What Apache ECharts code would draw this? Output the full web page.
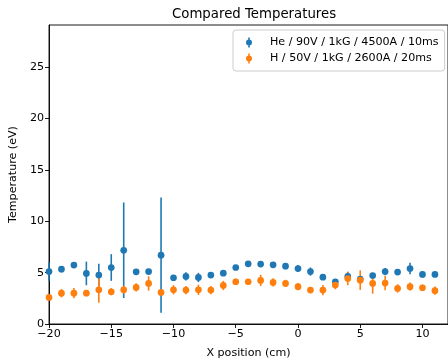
<!DOCTYPE html>
<html><head><meta charset="utf-8">
<script src="https://cdn.jsdelivr.net/npm/echarts@6/dist/echarts.min.js"></script>
<style>html,body{margin:0;padding:0;background:#fff}#c{width:448px;height:364px}</style>
</head><body><div id="c"></div>
<script>
const xPos = [-20,-19,-18,-17,-16,-15,-14,-13,-12,-11,-10,-9,-8,-7,-6,-5,-4,-3,-2,-1,0,1,2,3,4,5,6,7,8,9,10,11];
const heTemp = [5.1,5.34,5.73,4.92,4.76,5.5,7.18,5.08,5.1,6.7,4.5,4.63,4.53,4.76,4.95,5.5,5.86,5.83,5.76,5.63,5.4,5.1,4.56,4.11,4.63,4.37,4.72,5.1,5.05,5.4,4.82,4.82];
const heErr = [0.9,0.3,0.2,1.15,1.1,1.3,4.65,0.2,0.2,5.6,0.2,0.4,0.45,0.2,0.2,0.2,0.2,0.2,0.25,0.2,0.35,0.4,0.15,0.2,0.45,0.25,0.2,0.35,0.2,0.55,0.3,0.2];
const hTemp = [2.59,3.0,3.0,3.0,3.33,3.14,3.33,3.56,3.95,3.07,3.33,3.3,3.33,3.3,3.75,4.11,4.11,4.24,4.05,3.95,3.63,3.3,3.3,3.79,4.43,4.27,3.95,3.98,3.46,3.63,3.53,3.24];
const hErr = [0.2,0.4,0.5,0.2,1.25,0.35,0.4,0.4,0.7,0.3,0.45,0.4,0.5,0.4,0.45,0.3,0.2,0.55,0.4,0.35,0.35,0.2,0.5,0.4,0.65,0.95,1.0,0.7,0.4,0.4,0.3,0.4];
const heName = 'He / 90V / 1kG / 4500A / 10ms';
const hName = 'H / 50V / 1kG / 2600A / 20ms';
const xTicks = {min: -20, max: 12.05, interval: 5};
const yTicks = {min: 0, max: 29.1, interval: 5};

const blue = '#1f77b4', orange = '#ff7f0e';
const font = 'DejaVu Sans';
function errData(ys, es){ return xPos.map((x,i)=>[x, ys[i], es[i]]); }
function ptData(ys){ return xPos.map((x,i)=>[x, ys[i]]); }
function errSeries(name, ys, es, color){
  return {
    type:'custom', name: name, data: errData(ys, es), encode:{x:0,y:1}, silent:true,
    renderItem: function(params, api){
      const x = api.value(0), y = api.value(1), e = api.value(2);
      const p1 = api.coord([x, y - e]), p2 = api.coord([x, y + e]);
      return {type:'line', shape:{x1:p1[0], y1:p1[1], x2:p2[0], y2:p2[1]},
        style:{stroke: color, lineWidth: 1.6}};
    }
  };
}
const icon = 'path://M2.2,0h1.6v10h-1.6z M0,5a3,3 0 1,1 6,0a3,3 0 1,1 -6,0z';
const chart = echarts.init(document.getElementById('c'), null, {renderer:'canvas'});
chart.setOption({
  animation:false,
  title:{text:'Compared Temperatures', left:167, top:3,
    textStyle:{fontFamily:font, fontSize:13.3, fontWeight:'normal', color:'#000'}},
  grid:{left:48, top:25, right:-3, bottom:39, show:true, borderColor:'#000', borderWidth:0.9},
  legend:{
    orient:'vertical', left:233, top:30, itemWidth:6, itemHeight:11, itemGap:5,
    padding:[7, 6, 7, 13], borderColor:'#ccc', borderWidth:1, borderRadius:3,
    backgroundColor:'rgba(255,255,255,0.8)',
    textStyle:{fontFamily:font, fontSize:11.1, color:'#000', padding:[0,0,0,13]},
    data:[{name:heName, icon:icon, itemStyle:{opacity:1}}, {name:hName, icon:icon, itemStyle:{opacity:1}}]
  },
  xAxis:{type:'value', min:xTicks.min, max:xTicks.max, interval:xTicks.interval,
    name:'X position (cm)', nameLocation:'middle', nameGap:24,
    nameTextStyle:{fontFamily:font, fontSize:11.1, color:'#000'},
    axisLine:{show:true, onZero:false, lineStyle:{color:'#000', width:0.9}},
    axisTick:{show:true, length:4, lineStyle:{color:'#000', width:0.9}},
    axisLabel:{fontFamily:font, fontSize:11.1, color:'#000', margin:5, showMaxLabel:false,
      formatter: v => (v<0 ? '\u2212'+(-v) : ''+v)},
    splitLine:{show:false}},
  yAxis:{type:'value', min:yTicks.min, max:yTicks.max, interval:yTicks.interval,
    name:'Temperature (eV)', nameLocation:'middle', nameGap:24,
    nameTextStyle:{fontFamily:font, fontSize:11.1, color:'#000'},
    axisLine:{show:true, onZero:false, lineStyle:{color:'#000', width:0.9}},
    axisTick:{show:true, length:4, lineStyle:{color:'#000', width:0.9}},
    axisLabel:{fontFamily:font, fontSize:11.1, color:'#000', margin:5, showMaxLabel:false},
    splitLine:{show:false}},
  series:[
    errSeries('heErr', heTemp, heErr, blue),
    {type:'scatter', name:heName, data:ptData(heTemp), symbol:'circle', symbolSize:6.7,
      itemStyle:{color:blue, opacity:1}},
    errSeries('hErr', hTemp, hErr, orange),
    {type:'scatter', name:hName, data:ptData(hTemp), symbol:'circle', symbolSize:6.7,
      itemStyle:{color:orange, opacity:1}}
  ]
});
</script></body></html>
